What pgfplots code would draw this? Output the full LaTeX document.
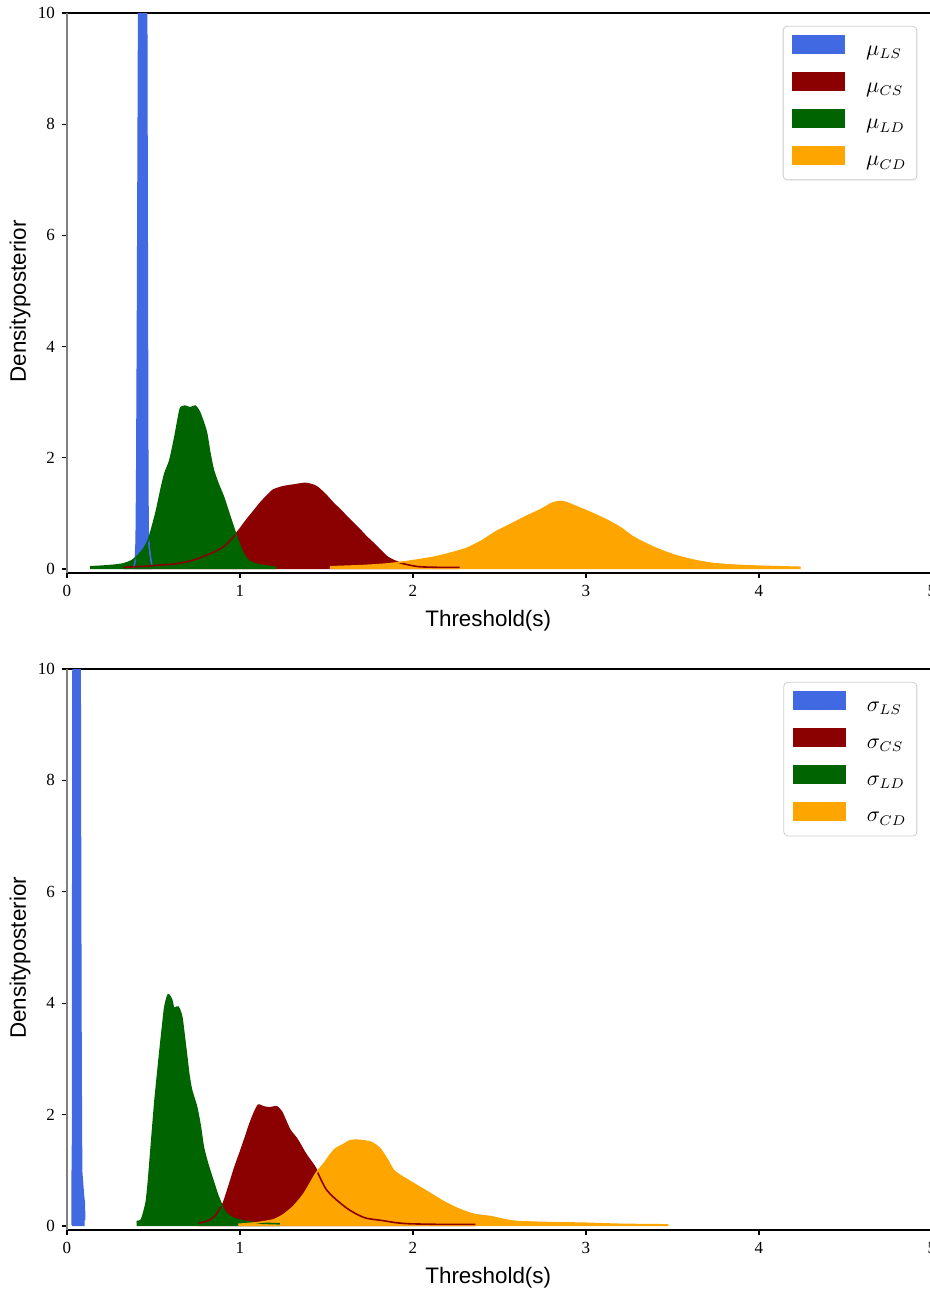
\documentclass[border=0pt]{standalone}
\usepackage{pgfplots}
\pgfplotsset{compat=1.18}
\usepackage{pgfplotstable}
\usepackage{fontspec}
\setmainfont{Liberation Serif}
\newfontfamily\arial{Liberation Sans}
\definecolor{cLS}{HTML}{4169E1}
\definecolor{cCS}{HTML}{8B0000}
\definecolor{cLD}{HTML}{006400}
\definecolor{cCD}{HTML}{FFA500}

% ---- mu posteriors ----
\pgfplotstableread{
x y
0.385 0.02
0.395 0.15
0.400 0.5
0.403 1.5
0.407 4
0.412 8
0.418 13
0.425 20
0.435 26
0.445 26
0.452 20
0.458 13
0.462 8
0.465 4
0.467 1.5
0.469 0.7
0.475 0.4
0.483 0.2
0.490 0.08
}\muLS
\pgfplotstableread{
x y
0.326 0.03
0.45 0.05
0.538 0.07
0.62 0.09
0.692 0.13
0.75 0.18
0.807 0.25
0.86 0.32
0.904 0.40
0.94 0.50
0.971 0.61
1.0 0.72
1.038 0.88
1.08 1.04
1.116 1.18
1.155 1.31
1.193 1.42
1.25 1.48
1.31 1.51
1.376 1.54
1.41 1.52
1.443 1.48
1.49 1.35
1.54 1.18
1.58 1.06
1.617 0.94
1.655 0.82
1.694 0.70
1.73 0.58
1.771 0.46
1.81 0.34
1.849 0.22
1.89 0.15
1.925 0.11
1.98 0.07
2.04 0.04
2.15 0.03
2.27 0.03
}\muCS
\pgfplotstableread{
x y
0.133 0.04
0.2 0.05
0.28 0.07
0.324 0.09
0.345 0.11
0.375 0.15
0.403 0.22
0.44 0.35
0.47 0.52
0.495 0.78
0.518 1.06
0.545 1.45
0.566 1.72
0.595 1.96
0.624 2.38
0.653 2.86
0.668 2.92
0.682 2.93
0.712 2.90
0.740 2.93
0.755 2.88
0.769 2.80
0.79 2.62
0.807 2.44
0.825 2.10
0.846 1.78
0.875 1.52
0.904 1.30
0.942 0.94
0.981 0.58
1.019 0.28
1.058 0.13
1.116 0.07
1.16 0.05
1.21 0.03
}\muLD
\pgfplotstableread{
x y
1.52 0.04
1.7 0.06
1.85 0.09
1.925 0.12
2.0 0.15
2.117 0.21
2.2 0.27
2.31 0.37
2.4 0.51
2.48 0.67
2.57 0.81
2.657 0.95
2.734 1.06
2.81 1.19
2.869 1.21
2.946 1.12
3.03 1.01
3.12 0.88
3.2 0.74
3.27 0.58
3.35 0.45
3.43 0.34
3.52 0.24
3.62 0.16
3.73 0.10
3.85 0.07
4.0 0.05
4.24 0.03
}\muCD

% ---- sigma posteriors ----
\pgfplotstableread{
x y
0.030 0.02
0.030 0.9
0.032 1.2
0.033 4
0.034 8
0.036 12
0.075 12
0.077 8
0.080 4
0.083 1.6
0.085 0.95
0.090 0.75
0.094 0.59
0.100 0.4
0.102 0.1
}\sdLS
\pgfplotstableread{
x y
0.76 0.05
0.80 0.08
0.827 0.11
0.86 0.20
0.884 0.32
0.904 0.41
0.942 0.77
0.97 1.05
1.0 1.31
1.03 1.58
1.058 1.84
1.085 2.05
1.106 2.17
1.12 2.16
1.135 2.14
1.17 2.12
1.212 2.14
1.24 2.05
1.265 1.88
1.289 1.72
1.327 1.57
1.35 1.45
1.376 1.31
1.40 1.20
1.424 1.10
1.443 1.00
1.47 0.82
1.50 0.65
1.55 0.49
1.617 0.32
1.67 0.22
1.73 0.14
1.83 0.095
1.9 0.06
1.98 0.04
2.15 0.03
2.36 0.03
}\sdCS
\pgfplotstableread{
x y
0.403 0.08
0.43 0.11
0.457 0.41
0.47 0.77
0.48 1.15
0.49 1.54
0.509 2.26
0.538 3.16
0.555 3.65
0.566 3.94
0.585 4.15
0.605 4.06
0.615 3.92
0.624 3.91
0.643 3.93
0.663 3.76
0.678 3.40
0.692 3.04
0.705 2.70
0.72 2.44
0.749 2.14
0.77 1.80
0.788 1.42
0.81 1.15
0.836 0.89
0.874 0.53
0.913 0.26
0.961 0.14
1.038 0.08
1.13 0.05
1.23 0.04
}\sdLD
\pgfplotstableread{
x y
0.99 0.03
1.1 0.06
1.193 0.11
1.25 0.20
1.309 0.35
1.37 0.58
1.44 0.95
1.47 1.06
1.50 1.18
1.52 1.27
1.55 1.38
1.597 1.46
1.636 1.53
1.68 1.54
1.751 1.51
1.78 1.46
1.809 1.39
1.85 1.20
1.887 1.00
1.93 0.90
1.983 0.80
2.08 0.62
2.175 0.44
2.26 0.31
2.35 0.21
2.445 0.17
2.52 0.12
2.6 0.08
2.8 0.06
2.985 0.05
3.2 0.03
3.476 0.02
}\sdCD

\pgfplotsset{
  dens/.style={
    scale only axis, width=432.5pt, height=280pt,
    xmin=0, xmax=5, ymin=-0.072, ymax=10,
    xtick={0,1,2,3,4,5}, ytick={0,2,4,6,8,10},
    tick align=outside, xtick pos=bottom, ytick pos=left,
    major tick length=2.5pt,
    axis line style={line width=0.6pt},
    tick style={line width=0.6pt, black},
    /pgf/number format/assume math mode=true,
    ticklabel style={font=\fontsize{8.5}{10}\selectfont},
    xlabel={Threshold(s)}, ylabel={Densityposterior},
    label style={font=\arial\fontsize{11.2}{13}\selectfont},
    xlabel style={at={(axis description cs:0.487,-0.0857)}, anchor=center},
    ylabel style={at={(axis description cs:-0.0543,0.485)}, anchor=center},
    legend image code/.code={\fill[##1, draw=none, sharp corners] (0pt,-1.8pt) rectangle (26.5pt,7.7pt);},
    legend cell align=left,
    legend style={at={(0.983,0.977)}, anchor=north east,
      draw=black!20, rounded corners=2pt, fill=white,
      font=\fontsize{10.5}{12}\selectfont,
      inner xsep=4.5pt, inner ysep=4.5pt, row sep=6pt,
      nodes={inner sep=0pt, text height=7pt, text depth=2.5pt},
      /tikz/every odd column/.append style={column sep=10.5pt}},
  },
  fillp/.style={draw=none, forget plot},
  linep/.style={line width=0.8pt, forget plot},
}

\begin{document}
\begin{tikzpicture}
\begin{axis}[dens, name=top, at={(0,0)}, anchor=north west,
  legend entries={$\mu_{LS}$\hspace*{3pt},$\mu_{CS}$,$\mu_{LD}$,$\mu_{CD}$}]
\addlegendimage{fill=cLS}
\addlegendimage{fill=cCS}
\addlegendimage{fill=cLD}
\addlegendimage{fill=cCD}
\addplot[fillp, fill=cLS] table {\muLS} \closedcycle;
\addplot[fillp, fill=cCS, smooth, tension=0.4] table {\muCS} \closedcycle;
\addplot[fillp, fill=cLD, smooth, tension=0.4] table {\muLD} \closedcycle;
\addplot[fillp, fill=cCD, smooth, tension=0.4] table {\muCD} \closedcycle;
\addplot[linep, cLS] table {\muLS};
\addplot[linep, cCS, smooth, tension=0.4] table {\muCS};
\addplot[linep, cLD, smooth, tension=0.4] table {\muLD};
\addplot[linep, cCD, smooth, tension=0.4] table {\muCD};
\end{axis}
\draw[gray, line width=0.9pt] (top.south west) -- (top.north west);

\begin{axis}[dens, name=bot, height=280.5pt, at={(0,-328pt)}, anchor=north west,
  legend entries={$\sigma_{LS}$\hspace*{3pt},$\sigma_{CS}$,$\sigma_{LD}$,$\sigma_{CD}$}]
\addlegendimage{fill=cLS}
\addlegendimage{fill=cCS}
\addlegendimage{fill=cLD}
\addlegendimage{fill=cCD}
\addplot[fillp, fill=cLS] table {\sdLS} \closedcycle;
\addplot[fillp, fill=cCS, smooth, tension=0.4] table {\sdCS} \closedcycle;
\addplot[fillp, fill=cLD, smooth, tension=0.4] table {\sdLD} \closedcycle;
\addplot[fillp, fill=cCD, smooth, tension=0.4] table {\sdCD} \closedcycle;
\addplot[linep, cLS] table {\sdLS};
\addplot[linep, cCS, smooth, tension=0.4] table {\sdCS};
\addplot[linep, cLD, smooth, tension=0.4] table {\sdLD};
\addplot[linep, cCD, smooth, tension=0.4] table {\sdCD};
\end{axis}
\draw[gray, line width=0.9pt] (bot.south west) -- (bot.north west);

\pgfresetboundingbox
\path[use as bounding box] (-33.5pt,6.5pt) rectangle (431.5pt,-639pt);
\end{tikzpicture}
\end{document}
